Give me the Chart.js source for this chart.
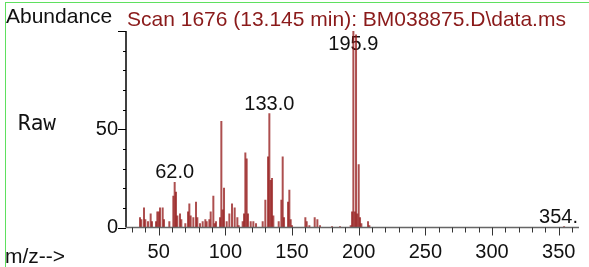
<!DOCTYPE html>
<html>
<head>
<meta charset="utf-8">
<script src="https://cdn.jsdelivr.net/npm/chart.js@4"></script>
<style>
  body { margin: 0; background: #fff; }
  #wrap { position: relative; width: 589px; height: 267px; overflow: hidden; }
  #box { position: absolute; left: 0; top: 0; width: 589px; height: 267px; }
  #frame { position: absolute; left: 5px; top: 2px; width: 590px; height: 280px;
           border-top: 1.5px solid #5fe05f; border-left: 1.5px solid #5fe05f; }
  .lbl { position: absolute; font-family: "Liberation Sans", Arial, sans-serif; font-size: 21px;
         line-height: 21px; white-space: nowrap; color: #111; }
</style>
</head>
<body>
<div id="wrap">
  <div id="box"><canvas id="spec"></canvas></div>
  <div id="frame"></div>
  <div class="lbl" style="left:6px;top:5px">Abundance</div>
  <div class="lbl" style="left:127px;top:8px;color:#8a1a1a">Scan 1676 (13.145 min): BM038875.D\data.ms</div>
  <div class="lbl" style="left:18px;top:113px;font-family:'DejaVu Sans Mono',monospace">Raw</div>
  <div class="lbl" style="left:5px;top:245px">m/z--&gt;</div>
</div>
<script>
// m/z values and relative abundance (%)
const mz = [
    36, 37, 39, 40, 42, 44, 45, 48, 49, 50, 51, 53, 54, 58,
    61, 62, 63, 64, 66, 67, 70, 72, 73, 74, 76, 78, 79, 81,
    83, 85, 86, 88, 89, 91, 92, 93, 96, 97, 98, 99, 101, 103,
    105, 107, 109, 110, 113, 114, 115, 116, 117, 119, 121, 123, 128,
    130, 132, 133, 134, 135, 136, 140, 142, 143, 144, 147, 148, 149, 150,
    160, 161, 163, 167, 169, 171, 180, 186, 194, 195, 196, 197, 198,
    199, 200, 201, 202, 207, 208, 354
];
const abundance = [
    5, 4, 10, 4, 3, 7, 3, 3, 8, 8, 10, 10, 4, 3,
    16, 23, 18, 6, 7, 4, 2, 8, 12, 6, 5, 13, 5, 2,
    3, 4, 3, 4, 8, 16, 2, 3, 5, 54, 9, 20, 3, 7,
    12, 10, 5, 1, 3, 7, 38, 35, 7, 3, 3, 2, 3,
    14, 36, 58, 24, 25, 6, 3, 14, 36, 5, 13, 19, 4, 1,
    5, 3, 1, 5, 4, 1, 0.5, 0.5, 1, 8, 100, 8, 98,
    7, 32, 5, 2, 3, 1, 0.5
];

// labelled peaks
const peakMz = [62, 133, 196, 354];
const peakText = ['62.0', '133.0', '195.9', '354.'];

// labelled ticks
const xTickLabels = [50, 100, 150, 200, 250, 300, 350];
const yTickLabels = [0, 50];

const FONT = '"Liberation Sans", Arial, sans-serif';

const axisMarks = {
    id: 'axisMarks',
    beforeDatasetsDraw(chart) {
        // peak labels sit under the bars
        const {ctx, chartArea: a} = chart;
        const meta = chart.getDatasetMeta(0);
        ctx.save();
        ctx.font = '20px ' + FONT;
        ctx.fillStyle = '#111';
        ctx.textAlign = 'center';
        ctx.textBaseline = 'alphabetic';
        peakMz.forEach((m, i) => {
            const bar = meta.data[mz.indexOf(m)];
            const w = ctx.measureText(peakText[i]).width;
            const cx = Math.min(bar.x, a.right - w / 2 - 1);
            const by = Math.max(bar.y - 4, 50);
            ctx.fillText(peakText[i], cx, by);
        });
        ctx.restore();
    },
    afterDatasetsDraw(chart) {
        const {ctx, chartArea: a, scales: {x, y}} = chart;
        ctx.save();
        // y axis
        ctx.strokeStyle = '#000';
        ctx.lineWidth = 1.5;
        ctx.beginPath();
        ctx.moveTo(a.left, a.top);
        ctx.lineTo(a.left, a.bottom);
        ctx.stroke();
        ctx.lineWidth = 1;
        y.ticks.forEach(t => {
            const py = Math.round(y.getPixelForValue(t.value)) + 0.5;
            const len = t.value % 50 === 0 ? 8 : 3;
            ctx.beginPath();
            ctx.moveTo(a.left - len, py);
            ctx.lineTo(a.left, py);
            ctx.stroke();
        });
        // x axis
        ctx.strokeStyle = '#666';
        ctx.lineWidth = 1.5;
        ctx.beginPath();
        ctx.moveTo(a.left, a.bottom);
        ctx.lineTo(a.right, a.bottom);
        ctx.stroke();
        ctx.strokeStyle = '#333';
        ctx.lineWidth = 1;
        x.ticks.forEach(t => {
            if (t.value % 10 !== 0) return;
            const px = Math.round(x.getPixelForValue(t.value)) + 0.5;
            const len = t.value % 50 === 0 ? 8 : 5;
            ctx.beginPath();
            ctx.moveTo(px, a.bottom);
            ctx.lineTo(px, a.bottom + len);
            ctx.stroke();
        });
        ctx.restore();
    }
};

const data = {
    datasets: [{
        data: mz.map((m, i) => ({x: m, y: abundance[i]})),
        backgroundColor: 'rgba(145,20,20,0.75)',
        borderWidth: 0,
        barPercentage: 1,
        categoryPercentage: 1
    }]
};

const config = {
    type: 'bar',
    data: data,
    options: {
        responsive: true,
        maintainAspectRatio: false,
        animation: false,
        layout: { padding: { top: 31, right: 10, left: 0, bottom: 0 } },
        plugins: { legend: { display: false }, tooltip: { enabled: false } },
        scales: {
            x: {
                type: 'linear',
                min: 25.5,
                max: 365.2,
                offset: false,
                grid: { display: false, drawTicks: false },
                border: { display: false },
                afterFit: s => { s.height = 39.5; },
                ticks: {
                    stepSize: 10,
                    includeBounds: false,
                    autoSkip: false,
                    maxRotation: 0,
                    padding: 13,
                    color: '#111',
                    font: { family: FONT, size: 20 },
                    callback: v => xTickLabels.includes(v) ? String(v) : ''
                }
            },
            y: {
                min: 0,
                max: 100,
                grid: { display: false, drawTicks: false },
                border: { display: false },
                afterFit: s => { s.width = 126; },
                ticks: {
                    stepSize: 10,
                    autoSkip: false,
                    padding: 8,
                    color: '#111',
                    font: { family: FONT, size: 20 },
                    callback: v => yTickLabels.includes(v) ? String(v) : ''
                }
            }
        }
    },
    plugins: [axisMarks]
};

new Chart(document.getElementById('spec'), config);
</script>
</body>
</html>
